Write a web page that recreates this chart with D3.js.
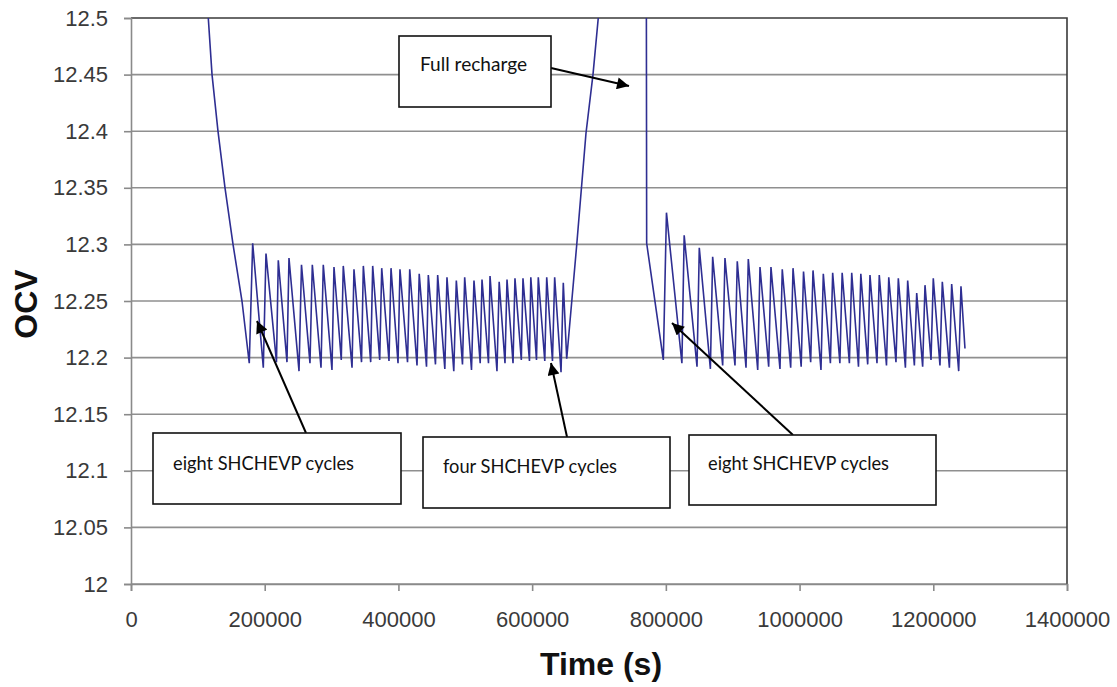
<!DOCTYPE html>
<html><head><meta charset="utf-8">
<script src="https://cdn.jsdelivr.net/npm/d3@7"></script>
<style>body{margin:0;background:#fff;overflow:hidden}</style>
</head><body>
<svg id="chart" width="1117" height="687"></svg>
<script>
// ---- data ----
const timeSeconds = [
  112900,115600,121200,130100,140600,152600,166000,
  176900,182000,197900,201900,217600,220300,233300,236300,251300,255000,
  267700,271200,284200,287600,300600,303600,314500,317500,330600,333500,
  344800,347500,358500,361500,372000,375000,385900,388900,399400,402300,
  413600,416900,427800,431100,442000,444700,455400,458700,469400,472600,
  482800,486600,495800,499100,509300,513000,522300,525000,534700,537000,
  547400,550700,559400,562400,571400,574300,583800,586300,596000,598000,
  606500,609200,618900,621800,630400,633700,643200,646600,651700,
  666600,680500,691000,698900,704200,
  740000,
  770800,771300,796200,800900,824000,827400,846600,850000,866600,870000,
  885000,888400,903400,906800,919900,923300,937400,940800,953800,957200,
  970700,974100,986700,990200,1002400,1005900,1016600,1020100,1032000,1035500,
  1046100,1049500,1060300,1063700,1074500,1078000,1088100,1091600,1101900,1105300,
  1115800,1119200,1130000,1133400,1144200,1147700,1158300,1161700,1171700,1175200,
  1184100,1187600,1196600,1200000,1210000,1213500,1224100,1227500,1238000,1241400,
  1247400
];
const ocvVolts = [
  12.525,12.500,12.450,12.400,12.350,12.300,12.250,
  12.195,12.301,12.191,12.292,12.196,12.286,12.196,12.288,12.188,12.282,
  12.195,12.282,12.191,12.282,12.189,12.280,12.198,12.281,12.191,12.278,
  12.196,12.281,12.196,12.281,12.198,12.279,12.197,12.279,12.195,12.278,
  12.196,12.278,12.193,12.274,12.192,12.273,12.194,12.273,12.190,12.271,
  12.188,12.268,12.194,12.271,12.189,12.268,12.195,12.269,12.195,12.272,
  12.188,12.267,12.195,12.269,12.195,12.270,12.198,12.270,12.197,12.271,
  12.198,12.271,12.197,12.271,12.197,12.271,12.187,12.266,12.199,
  12.299,12.398,12.450,12.500,12.534,
  null,
  12.534,12.301,12.198,12.328,12.195,12.308,12.192,12.297,12.190,12.289,
  12.193,12.288,12.193,12.285,12.191,12.287,12.189,12.280,12.192,12.280,
  12.190,12.278,12.191,12.279,12.192,12.276,12.196,12.277,12.189,12.274,
  12.195,12.275,12.195,12.275,12.195,12.275,12.192,12.274,12.194,12.273,
  12.195,12.273,12.193,12.271,12.196,12.270,12.191,12.268,12.193,12.257,
  12.192,12.264,12.198,12.270,12.193,12.267,12.191,12.265,12.188,12.263,
  12.208
];
const xTickValues = [0,200000,400000,600000,800000,1000000,1200000,1400000];
const xTickLabels = ["0","200000","400000","600000","800000","1000000","1200000","1400000"];
const yTickValues = [12,12.05,12.1,12.15,12.2,12.25,12.3,12.35,12.4,12.45,12.5];
const yTickLabels = ["12","12.05","12.1","12.15","12.2","12.25","12.3","12.35","12.4","12.45","12.5"];
const xTitle = "Time (s)";
const yTitle = "OCV";
const noteTexts = ["Full recharge","eight SHCHEVP cycles","four SHCHEVP cycles","eight SHCHEVP cycles"];

// ---- layout ----
const L = 131, R = 1067, T = 18, B = 584;
const svg = d3.select("#chart");
const x = d3.scaleLinear().domain([0,1400000]).range([L,R]);
const y = d3.scaleLinear().domain([12,12.5]).range([B,T]);

const tickFont = "'Liberation Sans', Arial, sans-serif";

// gridlines
svg.append("g").selectAll("line").data(yTickValues.filter(v=>v<12.5)).join("line")
  .attr("x1",L).attr("x2",R).attr("y1",d=>y(d)).attr("y2",d=>y(d))
  .attr("stroke","#8f8f8f").attr("stroke-width",1.6);

// plot border top/right
svg.append("path").attr("d",`M${L},${T}H${R}V${B}`).attr("fill","none")
  .attr("stroke","#3a3a3a").attr("stroke-width",1.6);

// y axis
const yAxis = d3.axisLeft(y).tickValues(yTickValues)
  .tickFormat((d,i)=>yTickLabels[i]).tickSize(7).tickPadding(16);
const gy = svg.append("g").attr("transform",`translate(${L},0)`).call(yAxis);
gy.select(".domain").attr("stroke","#8a8a8a").attr("stroke-width",1.6);
gy.selectAll(".tick line").attr("stroke","#8a8a8a").attr("stroke-width",1.6);
gy.selectAll("text").attr("font-family",tickFont).attr("font-size",22).attr("fill","#3a3a3a");

// x axis
const xAxis = d3.axisBottom(x).tickValues(xTickValues)
  .tickFormat((d,i)=>xTickLabels[i]).tickSize(7).tickPadding(20);
const gx = svg.append("g").attr("transform",`translate(0,${B})`).call(xAxis);
gx.select(".domain").attr("stroke","#8a8a8a").attr("stroke-width",1.6);
gx.selectAll(".tick line").attr("stroke","#8a8a8a").attr("stroke-width",1.6);
gx.selectAll("text").attr("font-family",tickFont).attr("font-size",22).attr("fill","#3a3a3a");

// titles
svg.append("text").attr("x",601).attr("y",675).attr("text-anchor","middle")
  .attr("font-family",tickFont).attr("font-weight","bold").attr("font-size",32)
  .attr("fill","#111").text(xTitle);
svg.append("text").attr("transform","translate(37,304) rotate(-90)").attr("text-anchor","middle")
  .attr("font-family",tickFont).attr("font-weight","bold").attr("font-size",32)
  .attr("fill","#111").text(yTitle);

// series
svg.append("clipPath").attr("id","clip").append("rect")
  .attr("x",L).attr("y",T).attr("width",R-L).attr("height",B-T);
const pts = timeSeconds.map((t,i)=>({t, v: ocvVolts[i]}));
const line = d3.line().defined(d=>d.v!==null).x(d=>x(d.t)).y(d=>y(d.v));
svg.append("path").datum(pts).attr("clip-path","url(#clip)")
  .attr("d",line).attr("fill","none").attr("stroke","#2e2e92")
  .attr("stroke-width",1.6).attr("stroke-linejoin","miter");

// annotations
const defs = svg.append("defs");
defs.append("marker").attr("id","ah").attr("viewBox","0 0 10 10")
  .attr("refX",10).attr("refY",5).attr("markerUnits","userSpaceOnUse")
  .attr("markerWidth",17).attr("markerHeight",12).attr("orient","auto")
  .append("path").attr("d","M0,0L10,5L0,10z").attr("fill","#000");

const boxes = [
  {x0:399,y0:36,x1:551,y1:107,tx:420,ty:71,tl:107,ax0:551,ay0:68,ax1:629,ay1:86},
  {x0:153,y0:433,x1:401,y1:504,tx:173,ty:470,tl:181,ax0:306,ay0:433,ax1:257,ay1:321},
  {x0:423,y0:437,x1:670,y1:508,tx:443,ty:473,tl:174,ax0:567,ay0:437,ax1:551,ay1:363},
  {x0:689,y0:435,x1:936,y1:505,tx:708,ty:470,tl:181,ax0:793,ay0:435,ax1:672,ay1:323}
];
boxes.forEach((b,i)=>{
  svg.append("line").attr("x1",b.ax0).attr("y1",b.ay0).attr("x2",b.ax1).attr("y2",b.ay1)
    .attr("stroke","#000").attr("stroke-width",2).attr("marker-end","url(#ah)");
  svg.append("rect").attr("x",b.x0).attr("y",b.y0).attr("width",b.x1-b.x0).attr("height",b.y1-b.y0)
    .attr("fill","#fff").attr("stroke","#111").attr("stroke-width",1.6);
  svg.append("text").attr("x",b.tx).attr("y",b.ty).attr("font-family","Lato, 'Open Sans', sans-serif")
    .attr("font-size",20).attr("fill","#111").attr("textLength",b.tl)
    .attr("lengthAdjust","spacingAndGlyphs").text(noteTexts[i]);
});
</script>
</body></html>
